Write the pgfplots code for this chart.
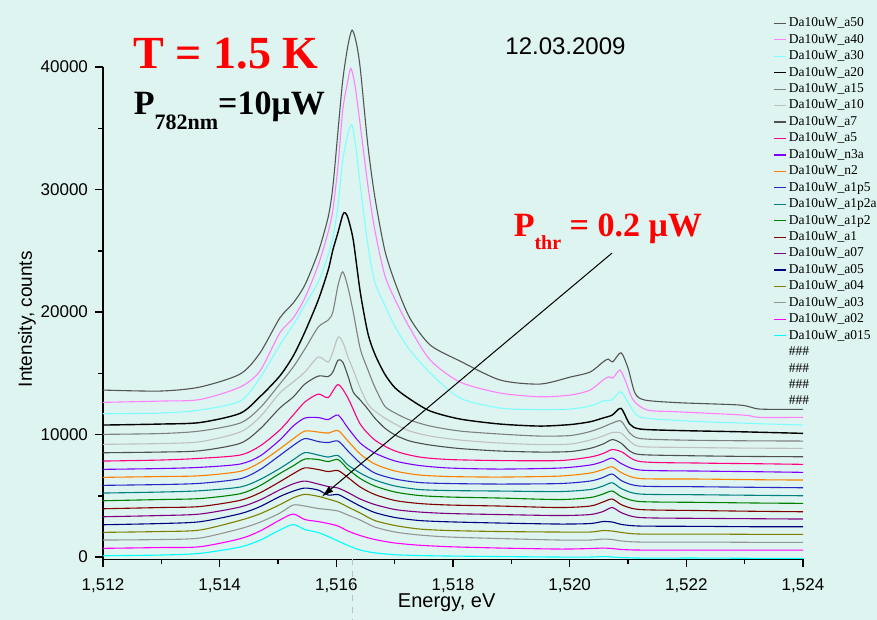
\documentclass[border=0pt]{standalone}
\usepackage{pgfplots}
\pgfplotsset{compat=1.18}
\usepackage{pgfplotstable}
\usetikzlibrary{arrows.meta}
\usepackage{fontspec}
\setmainfont{Liberation Sans}
\newfontfamily\timesf{Liberation Serif}
\definecolor{bg}{RGB}{221,244,240}
\definecolor{ca50}{RGB}{85,85,85}
\definecolor{ca40}{RGB}{255,128,255}
\definecolor{ca30}{RGB}{128,255,255}
\definecolor{ca15}{RGB}{128,128,128}
\definecolor{ca10}{RGB}{192,192,192}
\definecolor{ca7}{RGB}{80,80,80}
\definecolor{ca5}{RGB}{255,0,128}
\definecolor{cn3a}{RGB}{128,0,255}
\definecolor{cn2}{RGB}{255,128,0}
\definecolor{ca1p5}{RGB}{40,40,200}
\definecolor{ca1p2a}{RGB}{0,128,128}
\definecolor{ca1p2}{RGB}{0,128,0}
\definecolor{ca1}{RGB}{128,0,0}
\definecolor{ca07}{RGB}{128,0,128}
\definecolor{ca05}{RGB}{0,0,128}
\definecolor{ca04}{RGB}{128,128,0}
\definecolor{ca03}{RGB}{150,150,150}
\definecolor{ca02}{RGB}{255,0,255}
\definecolor{ca015}{RGB}{0,255,255}

\pgfplotstableread{
E a5 n3a n2 a1p5 a1p2a a1p2 a1 a07 a05 a04 a03 a02 a015
1.51200 7836 7159 6506 5853 5224 4596 3943 3290 2637 2016 1388 710 106
1.51298 7918 7224 6571 5918 5306 4694 4041 3388 2735 2082 1429 775 163
1.51366 8057 7322 6637 6016 5412 4775 4122 3510 2882 2204 1551 841 302
1.51435 8326 7592 6996 6392 5714 5167 4628 4082 3535 2996 2310 1494 816
1.51469 9061 8245 7714 7134 6326 5828 5241 4661 4114 3526 2841 2122 1371
1.51503 10367 9551 8832 8294 7232 6816 6147 5485 4939 4269 3584 3020 2204
1.51526 11591 10694 9649 9102 7934 7445 6800 5975 5379 4832 4245 3510 2653
1.51546 12653 11347 10285 9673 8530 8000 7281 6204 5632 5118 4163 3061 2245
1.51569 13306 11388 10204 9428 8326 7959 7143 5959 5469 4955 3959 2898 2000
1.51586 13020 11224 10122 9347 8163 7796 6979 5755 5061 4735 3877 2735 1673
1.51603 14081 11591 10326 9469 8286 7959 7061 5632 5102 4490 3755 2531 1306
1.51620 12979 10530 9469 8653 7510 7183 6490 5265 4694 4082 3428 2122 939
1.51641 10857 9306 8408 7673 6857 6408 5714 4735 4163 3592 3020 1755 571
1.51666 9551 8490 7592 6857 6286 5796 5102 4286 3633 2979 2449 1429 343
1.51701 8653 7837 7020 6367 5796 5306 4612 3877 3224 2571 2041 1143 188
1.51743 8163 7469 6694 6081 5510 5020 4367 3673 2979 2286 1796 963 122
1.51795 7959 7265 6571 6000 5428 4898 4245 3551 2873 2163 1633 841 82
1.51881 7877 7183 6530 5959 5388 4816 4163 3469 2775 2082 1510 735 41
1.51983 7877 7265 6612 6000 5347 4694 4041 3388 2694 2041 1388 653 0
1.52035 8163 7510 6857 6204 5510 4857 4163 3469 2735 2041 1388 694 0
1.52057 8449 7796 7143 6490 5796 5143 4490 3714 2898 2163 1469 735 41
1.52073 8775 8081 7371 6775 6065 5388 4735 4041 2857 2122 1429 694 0
1.52090 8571 7592 6857 6204 5551 4898 4245 3592 2653 2000 1306 612 -41
1.52121 7796 7102 6408 5796 5143 4530 3877 3224 2531 1877 1224 571 -82
1.52223 7673 7020 6367 5739 5086 4465 3796 3159 2506 1877 1224 571 -82
1.52326 7616 6963 6310 5690 5037 4408 3731 3126 2473 1853 1200 571 -106
1.52400 7567 6914 6286 5657 5004 4384 3698 3102 2473 1853 1200 571 -106
}\lowtab

\begin{document}
\begin{tikzpicture}
\useasboundingbox (-51.5pt,-30.25pt) rectangle (387pt,279.75pt);
\fill[bg] (-51.5pt,-30.25pt) rectangle (387pt,279.75pt);
\begin{axis}[
  at={(0pt,0pt)}, anchor=south west,
  scale only axis, width=350pt, height=246.2pt,
  xmin=1.512, xmax=1.524, ymin=-200, ymax=40000,
  axis x line*=bottom, axis y line*=left,
  axis line style={line width=0.9pt, black},
  tick align=outside,
  major tick length=4pt, minor tick length=2.5pt,
  every tick/.style={black, line width=0.8pt},
  xtick={1.512,1.514,1.516,1.518,1.520,1.522,1.524},
  xticklabels={{1,512},{1,514},{1,516},{1,518},{1,520},{1,522},{1,524}},
  ytick={0,10000,20000,30000,40000},
  yticklabels={0,10000,20000,30000,40000},
  minor x tick num=1, minor y tick num=1,
  scaled x ticks=false, scaled y ticks=false,
  tick label style={font=\fontsize{8.5}{10}\selectfont},
  xticklabel style={yshift=-2pt},
  xlabel={Energy, eV}, ylabel={Intensity, counts},
  xlabel style={font=\fontsize{10}{12}\selectfont, at={(axis description cs:0.491,-0.0883)}, anchor=center},
  ylabel style={font=\fontsize{9.5}{12}\selectfont, at={(axis description cs:-0.1086,0.488)}, anchor=center},
  clip=false,
  every axis plot/.append style={line width=0.55pt, smooth, tension=0.45},
  legend style={at={(axis description cs:0.958,1.1054)}, anchor=north west,
    draw=none, fill=none, inner sep=0pt, outer sep=0pt, row sep=0pt, column sep=1pt,
    font=\timesf\fontsize{6.75}{8}\selectfont,
    nodes={inner sep=0pt, text height=5.8pt, text depth=2.42pt, anchor=west}},
  legend cell align=left,
  legend image code/.code={\draw[#1, line width=0.6pt] (0pt,0pt) -- (6pt,0pt);},
]
\addplot[ca50] coordinates {(1.51200,13632)(1.51298,13551)(1.51366,13877)(1.51435,14938)(1.51469,16653)(1.51503,19510)(1.51526,20734)(1.51546,22203)(1.51569,24897)(1.51586,27754)(1.51594,30203)(1.51603,34856)(1.51611,38938)(1.51620,41795)(1.51627,43019)(1.51634,42039)(1.51641,39900)(1.51654,33632)(1.51666,29400)(1.51683,25060)(1.51701,22366)(1.51726,19510)(1.51761,17306)(1.51812,15999)(1.51881,14449)(1.51949,14122)(1.52001,14693)(1.52035,15102)(1.52057,15918)(1.52066,16163)(1.52074,15943)(1.52088,16677)(1.52100,15428)(1.52112,13387)(1.52129,12816)(1.52189,12596)(1.52292,12408)(1.52326,12081)(1.52400,12057)};
\addlegendentry{Da10uW\_a50}
\addplot[ca40] coordinates {(1.51200,12628)(1.51298,12734)(1.51366,12857)(1.51435,13877)(1.51469,15183)(1.51503,18285)(1.51526,19510)(1.51546,21142)(1.51569,23836)(1.51586,26530)(1.51594,28326)(1.51603,31999)(1.51611,36489)(1.51620,38938)(1.51625,39893)(1.51632,38509)(1.51641,35264)(1.51654,30366)(1.51666,26693)(1.51683,23020)(1.51701,20979)(1.51726,18693)(1.51761,16081)(1.51812,14285)(1.51881,13387)(1.51949,13085)(1.52001,13224)(1.52035,13632)(1.52057,14449)(1.52067,14718)(1.52074,14612)(1.52086,15265)(1.52095,14449)(1.52109,12816)(1.52133,12000)(1.52184,11861)(1.52297,11591)(1.52326,11404)(1.52400,11404)};
\addlegendentry{Da10uW\_a40}
\addplot[ca30] coordinates {(1.51200,11698)(1.51298,11755)(1.51366,12000)(1.51435,12734)(1.51469,14612)(1.51503,17306)(1.51526,18938)(1.51546,20571)(1.51569,22448)(1.51586,24652)(1.51594,26040)(1.51603,28734)(1.51611,32407)(1.51620,34611)(1.51627,35264)(1.51634,33224)(1.51641,30366)(1.51654,25469)(1.51666,22448)(1.51683,20571)(1.51701,18775)(1.51726,16897)(1.51761,15020)(1.51812,12979)(1.51881,12163)(1.51949,12040)(1.52001,12081)(1.52035,12326)(1.52057,12734)(1.52073,12857)(1.52088,13493)(1.52103,12408)(1.52121,11428)(1.52189,11143)(1.52292,10938)(1.52400,10775)};
\addlegendentry{Da10uW\_a30}
\addplot[black, line width=0.7pt] coordinates {(1.51200,10775)(1.51298,10857)(1.51366,10979)(1.51435,11730)(1.51469,13085)(1.51503,14775)(1.51526,16408)(1.51546,18367)(1.51569,20979)(1.51586,23428)(1.51594,25060)(1.51603,26530)(1.51611,27943)(1.51615,28106)(1.51620,27673)(1.51629,25877)(1.51641,21632)(1.51654,18285)(1.51666,16571)(1.51683,14938)(1.51701,13795)(1.51726,12898)(1.51761,11918)(1.51812,11265)(1.51881,10857)(1.51949,10693)(1.52001,10816)(1.52035,11045)(1.52057,11347)(1.52073,11591)(1.52088,12138)(1.52103,10857)(1.52121,10449)(1.52189,10326)(1.52292,10228)(1.52400,10098)};
\addlegendentry{Da10uW\_a20}
\addplot[ca15] coordinates {(1.51200,10016)(1.51298,10081)(1.51366,10285)(1.51435,10938)(1.51469,12163)(1.51503,14122)(1.51526,15510)(1.51546,16979)(1.51569,18775)(1.51586,19346)(1.51594,20000)(1.51603,22203)(1.51611,23289)(1.51620,22000)(1.51629,20000)(1.51641,17000)(1.51654,15300)(1.51666,13877)(1.51683,12326)(1.51701,11755)(1.51726,11183)(1.51761,10693)(1.51812,10285)(1.51881,10040)(1.51949,9877)(1.52001,9918)(1.52035,10244)(1.52057,10612)(1.52073,10938)(1.52088,11102)(1.52103,10122)(1.52121,9673)(1.52189,9551)(1.52292,9494)(1.52400,9469)};
\addlegendentry{Da10uW\_a15}
\addplot[ca10] coordinates {(1.51200,9200)(1.51298,9265)(1.51366,9412)(1.51435,10204)(1.51469,11428)(1.51503,13387)(1.51526,14285)(1.51546,15102)(1.51569,16326)(1.51586,15918)(1.51594,16734)(1.51603,17959)(1.51611,17551)(1.51620,16326)(1.51629,15265)(1.51641,13796)(1.51654,12490)(1.51666,11918)(1.51683,11347)(1.51701,10857)(1.51726,10285)(1.51761,9877)(1.51812,9551)(1.51881,9306)(1.51949,9183)(1.52001,9224)(1.52035,9551)(1.52057,9877)(1.52073,10163)(1.52088,10122)(1.52103,9469)(1.52121,9020)(1.52189,8955)(1.52292,8898)(1.52400,8873)};
\addlegendentry{Da10uW\_a10}
\addplot[ca7] coordinates {(1.51200,8514)(1.51298,8571)(1.51366,8677)(1.51435,9281)(1.51469,10449)(1.51503,12163)(1.51526,13061)(1.51546,14122)(1.51569,14775)(1.51586,14734)(1.51594,15102)(1.51603,16081)(1.51611,15918)(1.51620,14775)(1.51629,13469)(1.51641,12816)(1.51654,12081)(1.51666,11347)(1.51683,10530)(1.51701,9959)(1.51726,9469)(1.51761,9143)(1.51812,8857)(1.51881,8653)(1.51949,8571)(1.52001,8612)(1.52035,8873)(1.52057,9224)(1.52073,9592)(1.52088,9306)(1.52103,8653)(1.52121,8367)(1.52189,8285)(1.52292,8220)(1.52400,8188)};
\addlegendentry{Da10uW\_a7}
\addplot[ca5] table[x=E,y=a5] {\lowtab};
\addlegendentry{Da10uW\_a5}
\addplot[cn3a] table[x=E,y=n3a] {\lowtab};
\addlegendentry{Da10uW\_n3a}
\addplot[cn2] table[x=E,y=n2] {\lowtab};
\addlegendentry{Da10uW\_n2}
\addplot[ca1p5] table[x=E,y=a1p5] {\lowtab};
\addlegendentry{Da10uW\_a1p5}
\addplot[ca1p2a] table[x=E,y=a1p2a] {\lowtab};
\addlegendentry{Da10uW\_a1p2a}
\addplot[ca1p2] table[x=E,y=a1p2] {\lowtab};
\addlegendentry{Da10uW\_a1p2}
\addplot[ca1] table[x=E,y=a1] {\lowtab};
\addlegendentry{Da10uW\_a1}
\addplot[ca07] table[x=E,y=a07] {\lowtab};
\addlegendentry{Da10uW\_a07}
\addplot[ca05] table[x=E,y=a05] {\lowtab};
\addlegendentry{Da10uW\_a05}
\addplot[ca04] table[x=E,y=a04] {\lowtab};
\addlegendentry{Da10uW\_a04}
\addplot[ca03] table[x=E,y=a03] {\lowtab};
\addlegendentry{Da10uW\_a03}
\addplot[ca02] table[x=E,y=a02] {\lowtab};
\addlegendentry{Da10uW\_a02}
\addplot[ca015] table[x=E,y=a015] {\lowtab};
\addlegendentry{Da10uW\_a015}
\addlegendimage{empty legend}\addlegendentry{\#\#\#}
\addlegendimage{empty legend}\addlegendentry{\#\#\#}
\addlegendimage{empty legend}\addlegendentry{\#\#\#}
\addlegendimage{empty legend}\addlegendentry{\#\#\#}
\draw[-{Latex[length=6pt,width=3.5pt]}, line width=0.5pt, black] (axis cs:1.520726,24816) -- (axis cs:1.515749,4922);
\draw[dashed, gray!50, line width=0.4pt] (axis cs:1.51627,-200) -- (axis cs:1.51627,-5150);
\end{axis}
\node[anchor=base west, red, font=\timesf\bfseries\fontsize{23}{23}\selectfont, inner sep=0pt] at (15.2pt,245.6pt) {T = 1.5 K};
\node[anchor=base west, black, font=\timesf\bfseries\fontsize{17}{17}\selectfont, inner sep=0pt] at (15.2pt,222.25pt) {P\raisebox{-7.5pt}{\fontsize{11}{11}\selectfont 782nm}=10μW};
\node[anchor=base west, black, font=\fontsize{12}{12}\selectfont, inner sep=0pt] at (201pt,252.25pt) {12.03.2009};
\node[anchor=base west, red, font=\timesf\bfseries\fontsize{17}{17}\selectfont, inner sep=0pt] at (205.2pt,161.4pt) {P\raisebox{-6.5pt}{\fontsize{10}{10}\selectfont thr} = 0.2 μW};
\end{tikzpicture}
\end{document}
